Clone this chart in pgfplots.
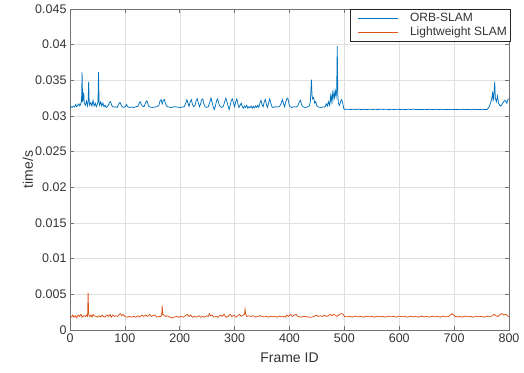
\documentclass[border=0pt]{standalone}
\usepackage{pgfplots}
\pgfplotsset{compat=1.18}
\usepackage{fontspec}
\setmainfont{Liberation Sans}
\usetikzlibrary{calc}
\definecolor{mblue}{rgb}{0,0.447,0.741}
\definecolor{morange}{rgb}{0.85,0.325,0.098}
\definecolor{axgray}{gray}{0.45}
\definecolor{txtgray}{gray}{0.2}
\begin{document}
\begin{tikzpicture}
\begin{axis}[
  scale only axis,
  width=439pt, height=321pt,
  xmin=0, xmax=800, ymin=0, ymax=0.045,
  xtick={0,100,...,800},
  ytick={0,0.005,0.01,0.015,0.02,0.025,0.03,0.035,0.04,0.045},
  yticklabels={0,0.005,0.01,0.015,0.02,0.025,0.03,0.035,0.04,0.045},
  scaled y ticks=false,
  /pgf/number format/assume math mode=true,
  tick label style={font=\fontsize{12.5}{14}\selectfont, text=txtgray},
  xlabel={Frame ID}, ylabel={time/s},
  label style={font=\fontsize{14}{16}\selectfont, text=txtgray},
  xlabel style={at={(axis description cs:0.5,-0.0872)}, anchor=center},
  ylabel style={at={(axis description cs:-0.0957,0.5)}, anchor=center},
  axis line style={axgray, line width=0.8pt},
  tick style={axgray, line width=0.6pt},
  tick align=inside,
  major tick length=4pt,
  grid=major,
  major grid style={gray!25, line width=0.5pt},
  legend style={at={(1.005,1.0)}, anchor=north east, draw=black!85, line width=0.8pt,
    font=\fontsize{12}{13}\selectfont, text=txtgray, fill=white,
    cells={anchor=west}, inner xsep=2pt, inner ysep=2pt, row sep=0pt},
  legend image code/.code={\path[draw=none,fill=none] (0pt,-1pt) rectangle (56pt,1pt); \draw[#1] (6pt,0pt) -- (46pt,0pt);},
]
\addplot[mblue, line width=0.75pt] coordinates {
(0,0.03115)(2,0.03130)(4,0.03120)(6,0.03135)(8,0.03128)(10,0.03160)(12,0.03130)(14,0.03150)(16,0.03170)(18,0.03140)
(20,0.03180)(21,0.03200)(22,0.03610)(23,0.03200)(24,0.03250)(25,0.03330)(26,0.03180)(28,0.03150)(30,0.03210)(32,0.03140)
(33,0.03200)(34,0.03480)(35,0.03200)(36,0.03150)(38,0.03190)(40,0.03140)(42,0.03220)(44,0.03140)(46,0.03180)(48,0.03130)
(50,0.03170)(51,0.03200)(52,0.03620)(53,0.03190)(54,0.03150)(56,0.03200)(58,0.03140)(60,0.03180)(62,0.03130)(64,0.03150)
(66,0.03120)(68,0.03130)(70,0.03150)(72,0.03190)(74,0.03200)(76,0.03150)(78,0.03130)(80,0.03125)(83,0.03130)(86,0.03120)
(89,0.03170)(91,0.03190)(93,0.03160)(95,0.03130)(98,0.03120)(101,0.03135)(103,0.03160)(105,0.03130)(108,0.03120)(112,0.03125)
(116,0.03120)(120,0.03130)(124,0.03135)(126,0.03180)(128,0.03200)(130,0.03160)(132,0.03140)(135,0.03130)(137,0.03170)(139,0.03210)
(141,0.03200)(143,0.03140)(146,0.03125)(150,0.03120)(154,0.03125)(158,0.03130)(162,0.03150)(164,0.03210)(166,0.03230)(168,0.03170)
(170,0.03220)(172,0.03230)(174,0.03170)(176,0.03140)(180,0.03125)(185,0.03120)(190,0.03130)(195,0.03125)(200,0.03120)(205,0.03125)
(208,0.03130)(211,0.03180)(213,0.03230)(215,0.03180)(217,0.03135)(219,0.03200)(221,0.03230)(223,0.03170)(225,0.03130)(228,0.03150)
(230,0.03220)(232,0.03240)(234,0.03180)(236,0.03130)(238,0.03170)(240,0.03230)(242,0.03240)(244,0.03170)(246,0.03130)(249,0.03120)
(252,0.03130)(255,0.03200)(257,0.03250)(259,0.03190)(261,0.03130)(263,0.03090)(265,0.03140)(267,0.03210)(269,0.03240)(271,0.03180)
(273,0.03140)(276,0.03120)(279,0.03130)(282,0.03200)(284,0.03250)(286,0.03200)(288,0.03140)(290,0.03090)(292,0.03150)(294,0.03220)
(296,0.03240)(298,0.03180)(300,0.03130)(302,0.03200)(304,0.03240)(306,0.03170)(308,0.03120)(310,0.03150)(312,0.03180)(314,0.03130)
(316,0.03110)(318,0.03140)(320,0.03120)(322,0.03150)(324,0.03110)(326,0.03130)(328,0.03115)(330,0.03140)(332,0.03110)(334,0.03135)
(336,0.03115)(338,0.03140)(340,0.03120)(342,0.03150)(344,0.03120)(346,0.03180)(348,0.03220)(350,0.03160)(352,0.03130)(354,0.03200)
(356,0.03230)(358,0.03160)(360,0.03120)(362,0.03190)(364,0.03240)(366,0.03180)(368,0.03130)(370,0.03120)(374,0.03130)(378,0.03125)
(382,0.03135)(385,0.03180)(387,0.03230)(389,0.03180)(391,0.03130)(393,0.03190)(395,0.03240)(397,0.03250)(399,0.03170)(401,0.03130)
(404,0.03120)(408,0.03130)(412,0.03125)(415,0.03140)(418,0.03200)(420,0.03220)(422,0.03160)(424,0.03130)(428,0.03120)(432,0.03125)
(436,0.03140)(438,0.03200)(440,0.03510)(441,0.03300)(442,0.03240)(444,0.03260)(446,0.03180)(448,0.03200)(450,0.03140)(453,0.03125)
(457,0.03120)(461,0.03125)(465,0.03130)(467,0.03170)(469,0.03140)(471,0.03200)(473,0.03150)(475,0.03280)(476,0.03200)(478,0.03320)
(479,0.03220)(481,0.03340)(482,0.03260)(484,0.03350)(485,0.03280)(486,0.03360)(487,0.03980)(488,0.03300)(489,0.03180)(491,0.03150)
(493,0.03200)(495,0.03230)(497,0.03180)(499,0.03100)(501,0.03092)(506,0.03096)(511,0.03090)(516,0.03095)(521,0.03091)(526,0.03097)
(531,0.03090)(536,0.03094)(541,0.03089)(546,0.03096)(551,0.03091)(556,0.03095)(561,0.03090)(566,0.03097)(571,0.03092)(576,0.03095)
(581,0.03089)(586,0.03094)(591,0.03091)(596,0.03096)(601,0.03090)(606,0.03094)(611,0.03089)(616,0.03095)(621,0.03091)(626,0.03096)
(631,0.03090)(636,0.03093)(641,0.03089)(646,0.03095)(651,0.03090)(656,0.03094)(661,0.03089)(666,0.03095)(671,0.03090)(676,0.03094)
(681,0.03088)(686,0.03093)(691,0.03089)(696,0.03094)(701,0.03090)(706,0.03093)(711,0.03088)(716,0.03094)(721,0.03089)(726,0.03093)
(731,0.03088)(736,0.03094)(741,0.03089)(746,0.03093)(751,0.03088)(756,0.03092)(760,0.03090)(764,0.03130)(767,0.03200)(769,0.03260)
(770,0.03340)(771,0.03220)(772,0.03250)(774,0.03480)(775,0.03250)(777,0.03200)(779,0.03280)(781,0.03180)(783,0.03150)(785,0.03140)
(787,0.03160)(790,0.03200)(793,0.03220)(796,0.03180)(798,0.03230)(800,0.03240)
};
\addlegendentry{ORB-SLAM}
\addplot[morange, line width=0.75pt] coordinates {
(0,0.00175)(3,0.00185)(5,0.0021)(7,0.0018)(10,0.0020)(12,0.0017)(15,0.0021)(17,0.0019)(20,0.0022)(22,0.0018)
(25,0.0020)(28,0.0019)(30,0.0021)(32,0.0019)(33,0.0052)(34,0.0022)(36,0.0019)(38,0.0021)(40,0.0018)(42,0.0022)
(44,0.0020)(47,0.0019)(50,0.0018)(53,0.0020)(56,0.0018)(58,0.0021)(61,0.0019)(64,0.0018)(67,0.0021)(70,0.0019)
(73,0.0022)(75,0.0018)(78,0.0021)(81,0.0019)(84,0.0020)(87,0.0019)(90,0.0022)(92,0.0023)(94,0.0020)(97,0.0022)
(100,0.0019)(104,0.0018)(108,0.0019)(112,0.0018)(116,0.0019)(120,0.0018)(124,0.0020)(127,0.0018)(131,0.0021)(134,0.0019)
(138,0.0021)(141,0.0019)(145,0.0022)(148,0.0019)(151,0.0020)(155,0.0021)(158,0.0018)(162,0.0019)(165,0.0019)(167,0.0020)
(168,0.0034)(169,0.0022)(171,0.0021)(174,0.0019)(178,0.0020)(182,0.0018)(186,0.0017)(190,0.0018)(194,0.0019)(198,0.0018)
(202,0.0019)(206,0.0018)(210,0.0020)(214,0.0022)(217,0.0019)(220,0.0021)(223,0.0018)(227,0.0019)(231,0.0018)(235,0.0020)
(238,0.0018)(242,0.0019)(245,0.0018)(249,0.0020)(252,0.0019)(254,0.0023)(256,0.0020)(259,0.0021)(262,0.0018)(266,0.0019)
(270,0.0018)(274,0.0021)(277,0.0019)(281,0.0022)(284,0.0018)(288,0.0019)(292,0.0022)(295,0.0019)(299,0.0021)(302,0.0018)
(306,0.0020)(309,0.0022)(312,0.0019)(316,0.0021)(318,0.0022)(319,0.0029)(320,0.0023)(322,0.0019)(326,0.0020)(330,0.0019)
(334,0.0020)(338,0.0018)(342,0.0019)(346,0.0020)(350,0.0019)(354,0.00185)(358,0.0019)(362,0.0018)(366,0.00195)(370,0.00185)
(374,0.0019)(378,0.0018)(382,0.00195)(386,0.00185)(390,0.0019)(393,0.0018)(395,0.0021)(398,0.0019)(402,0.0022)(405,0.0019)
(409,0.0021)(412,0.0022)(415,0.0019)(420,0.0018)(425,0.0019)(430,0.0019)(435,0.0018)(440,0.0018)(445,0.0019)(449,0.0021)
(452,0.0019)(456,0.0020)(460,0.0019)(464,0.0021)(467,0.0019)(471,0.0020)(474,0.0022)(477,0.0020)(480,0.0022)(483,0.0021)
(487,0.0019)(491,0.0022)(495,0.0023)(498,0.0022)(500,0.0019)(505,0.00185)(510,0.0019)(515,0.0018)(520,0.00195)(525,0.00185)
(530,0.0019)(535,0.0018)(540,0.00195)(545,0.00185)(550,0.0019)(555,0.0018)(560,0.00195)(565,0.00185)(570,0.0019)(575,0.0018)
(580,0.00195)(585,0.00185)(590,0.0019)(595,0.0018)(600,0.00195)(605,0.00185)(610,0.0019)(615,0.0018)(620,0.00195)(625,0.00185)
(630,0.0019)(635,0.0018)(640,0.00195)(645,0.00185)(650,0.0019)(655,0.0018)(660,0.00195)(665,0.00185)(670,0.0019)(675,0.0018)
(680,0.00195)(685,0.00185)(690,0.0019)(693,0.0021)(696,0.0023)(699,0.0021)(702,0.0019)(706,0.00185)(710,0.0019)(715,0.0018)
(720,0.00195)(725,0.00185)(730,0.0019)(735,0.0018)(740,0.00195)(745,0.00185)(750,0.0019)(755,0.0018)(760,0.00195)(765,0.0019)
(770,0.0020)(773,0.0022)(776,0.0020)(780,0.0019)(784,0.0022)(787,0.0023)(790,0.0021)(794,0.0022)(797,0.0020)(800,0.0019)
};
\addlegendentry{Lightweight SLAM}
\end{axis}
\path ($(current axis.south west)+(-70pt,-42pt)$) rectangle ($(current axis.north east)+(15pt,9pt)$);
\end{tikzpicture}
\end{document}
